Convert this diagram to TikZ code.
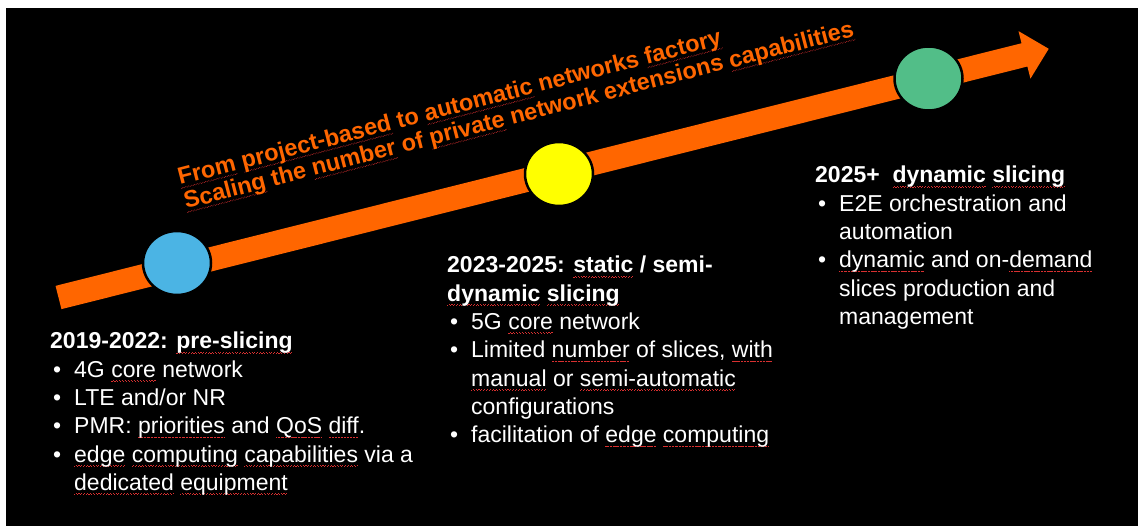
\documentclass[tikz,border=0pt]{standalone}
\usepackage{fontspec}
\setmainfont{Liberation Sans}
\usetikzlibrary{shapes.geometric}
\definecolor{orng}{HTML}{FF6600}
\definecolor{cblue}{HTML}{4BB4E4}
\definecolor{cyell}{HTML}{FFFF00}
\definecolor{cgreen}{HTML}{52BE88}
\definecolor{sqred}{HTML}{D83030}
\newsavebox\wavebox
\newsavebox\sqbox
\newcommand\sq[1]{\leavevmode\sbox\sqbox{#1}\rlap{\raisebox{-3.4pt}[0pt][0pt]{\hbox to \wd\sqbox{\xleaders\copy\wavebox\hfill}}}\usebox\sqbox}
\newcommand\bu{\makebox[24pt][l]{\hspace{3pt}\textbullet}}
\newcommand\ind{\makebox[24pt]{}}
\tikzset{
  milestone/.style={ellipse, draw=black, line width=2.5pt, inner sep=0pt, minimum width=68pt, minimum height=64pt},
  block/.style={anchor=base west, inner sep=0pt, text=white, font=\fontsize{23}{28.3}\selectfont},
  slogan/.style={anchor=base west, inner sep=0pt, text=orng, rotate=14.5, font=\fontsize{23.5}{25}\selectfont\bfseries},
}
\begin{document}
\sbox\wavebox{\color{sqred}\rule[-0.6pt]{1.1pt}{0.45pt}\hspace{0.3pt}\rule[0.1pt]{1.1pt}{0.45pt}\hspace{0.3pt}}%
\begin{tikzpicture}[x=1pt,y=-1pt]
\useasboundingbox (0,0) rectangle (1138,526);
\fill[white] (0,0) rectangle (1138,526);
\fill[black] (6,8) rectangle (1138,526);
% arrow
\begin{scope}[shift={(58.5,297.5)}, rotate=14.1]
\fill[orng] (0,-12) -- (996,-12) -- (996,-24.5) -- (1021,0) -- (996,24.5) -- (996,12) -- (0,12) -- cycle;
\end{scope}
% milestones
\node[milestone, fill=cblue] (m1) at (177,263) {};
\node[milestone, fill=cyell] (m2) at (559,174) {};
\node[milestone, fill=cgreen] (m3) at (928.5,78.5) {};
% slogan
\node[slogan] (s1) at (180,185) {\sq{From} \sq{project-based} to \sq{automatic} networks \sq{factory}};
\node[slogan] (s2) at (186,209) {\sq{Scaling} the \sq{number} of \sq{private} network extensions \sq{capabilities}};
% blocks
\node[block] (b1) at (50,349) {\begin{tabular}[t]{@{}l@{}}
\textbf{2019-2022: \sq{pre-slicing}}\\
\bu 4G \sq{core} network\\
\bu LTE and/or NR\\
\bu PMR: \sq{priorities} and \sq{QoS} \sq{diff}.\\
\bu \sq{edge} \sq{computing} \sq{capabilities} via a\\
\ind \sq{dedicated} \sq{equipment}
\end{tabular}};
\node[block] (b2) at (447,273) {\begin{tabular}[t]{@{}l@{}}
\textbf{2023-2025: \sq{static} / semi-}\\
\textbf{\sq{dynamic} \sq{slicing}}\\
\bu 5G \sq{core} network\\
\bu Limited \sq{number} of slices, \sq{with}\\
\ind \sq{manual} or \sq{semi-automatic}\\
\ind configurations\\
\bu facilitation of \sq{edge} \sq{computing}
\end{tabular}};
\node[block] (b3) at (815,183) {\begin{tabular}[t]{@{}l@{}}
\textbf{2025+\ \ \sq{dynamic} \sq{slicing}}\\
\bu E2E orchestration and\\
\ind automation\\
\bu \sq{dynamic} and on-\sq{demand}\\
\ind slices production and\\
\ind management
\end{tabular}};
\end{tikzpicture}
\end{document}
